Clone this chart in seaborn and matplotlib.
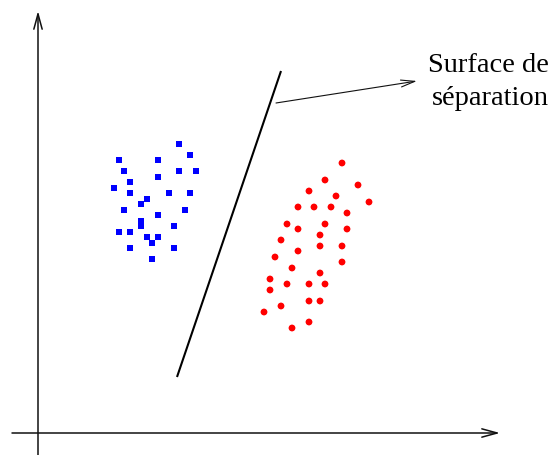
"""Redraw the two-class separation sketch with seaborn."""

import matplotlib
matplotlib.use("Agg")

import matplotlib.pyplot as plt
import pandas as pd
import seaborn as sns


# Class 1 (blue squares), origin at the axes crossing
blue_x = [141, 152, 81, 120, 86, 141, 158, 120, 92, 76, 92, 131, 152, 109, 103,
          86, 147, 120, 103, 103, 136, 81, 92, 109, 120, 114, 92, 136, 114]
blue_y = [288, 277, 272, 272, 261, 261, 261, 255, 250, 244, 239, 239, 239, 233, 228,
          222, 222, 217, 211, 206, 206, 200, 200, 195, 195, 189, 184, 184, 173]

# Class 2 (red dots)
red_x = [304, 287, 320, 271, 298, 331, 260, 276, 293, 309, 249, 287, 260, 309, 282,
         243, 282, 304, 260, 237, 254, 304, 282, 232, 249, 271, 287, 232, 271, 282,
         243, 226, 271, 254]
red_y = [269, 252, 247, 241, 236, 230, 225, 225, 225, 219, 208, 208, 203, 203, 197,
         192, 186, 186, 181, 175, 164, 170, 159, 153, 148, 148, 148, 142, 131, 131,
         126, 120, 110, 104]

# Separation line end points and the label
line_x = [139, 243]
line_y = [55, 361]
label_lines = ["Surface de", "séparation"]


def main():
    sns.set_style("white")
    plt.rcParams["font.family"] = ["Liberation Serif", "DejaVu Serif"]

    df = pd.DataFrame(
        {
            "x": blue_x + red_x,
            "y": blue_y + red_y,
            "cls": ["a"] * len(blue_x) + ["b"] * len(red_x),
        }
    )

    fig = plt.figure(figsize=(5.54, 4.56), dpi=100)
    ax = fig.add_axes([0, 0, 1, 1])
    ax.set_xlim(-38, 516)
    ax.set_ylim(-23, 433)
    ax.axis("off")

    sns.scatterplot(
        data=df, x="x", y="y", hue="cls", style="cls",
        markers={"a": "s", "b": "o"},
        palette={"a": "#0000ff", "b": "#ff0000"},
        s=24, linewidth=0, legend=False, ax=ax,
    )

    # axes drawn as arrows
    axis_arrow = dict(arrowstyle="->,head_length=1.1,head_width=0.3",
                      mutation_scale=10, lw=1.1, color="#111111",
                      shrinkA=0, shrinkB=0)
    ax.annotate("", xy=(462, -1), xytext=(-26, -1), arrowprops=axis_arrow)
    ax.annotate("", xy=(0, 421), xytext=(0, -23), arrowprops=axis_arrow)

    ax.plot(line_x, line_y, color="black", lw=1.5, solid_capstyle="butt")

    ax.annotate("", xy=(379, 351), xytext=(238, 329),
                arrowprops=dict(arrowstyle="->,head_length=1.0,head_width=0.25",
                                mutation_scale=10, lw=0.8, color="#111111",
                                shrinkA=0, shrinkB=0))

    ax.text(511, 361, label_lines[0], ha="right", va="baseline",
            fontsize=20.5, color="black")
    ax.text(511, 328, label_lines[1], ha="right", va="baseline",
            fontsize=20.5, color="black")

    fig.savefig("out.png", dpi=100)
    plt.close(fig)


if __name__ == "__main__":
    main()
